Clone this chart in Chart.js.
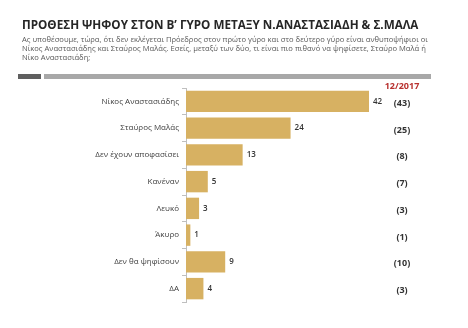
<!DOCTYPE html>
<html>
<head>
<meta charset="utf-8">
<script src="https://cdn.jsdelivr.net/npm/chart.js@4.4.1/dist/chart.umd.min.js"></script>
<style>
  html, body { margin: 0; padding: 0; background: #fff; }
  #myChart { display: block; }
</style>
</head>
<body>
<canvas id="myChart" width="468" height="328"></canvas>
<script>
// data
var categories = ['Νίκος Αναστασιάδης', 'Σταύρος Μαλάς', 'Δεν έχουν αποφασίσει', 'Κανέναν', 'Λευκό', 'Άκυρο', 'Δεν θα ψηφίσουν', 'ΔΑ']
var values = [42, 24, 13, 5, 3, 1, 9, 4]
var prevValues = [43, 25, 8, 7, 3, 1, 10, 3]
var periodLabel = '12/2017'

var titleText = 'ΠΡΟΘΕΣΗ ΨΗΦΟΥ ΣΤΟΝ Β’ ΓΥΡΟ ΜΕΤΑΞΥ Ν.ΑΝΑΣΤΑΣΙΑΔΗ & Σ.ΜΑΛΑ'
var subtitleLines = [
  'Ας υποθέσουμε, τώρα, ότι δεν εκλέγεται Πρόεδρος στον πρώτο γύρο και στο δεύτερο γύρο είναι ανθυποψήφιοι οι',
  'Νίκος Αναστασιάδης και Σταύρος Μαλάς. Εσείς, μεταξύ των δύο, τι είναι πιο πιθανό να ψηφίσετε, Σταύρο Μαλά ή',
  'Νίκο Αναστασιάδη;'
]

var FONT = '"Open Sans", "Noto Sans", sans-serif'
var barColor = '#D7B162'

// header: title, question text and the grey strip
const headerPlugin = {
  id: 'header',
  beforeDraw(chart) {
    const c = chart.ctx
    c.save()
    c.fillStyle = '#fff'
    c.fillRect(0, 0, chart.width, chart.height)
    c.restore()
  },
  afterDraw(chart) {
    const c = chart.ctx
    c.save()
    c.textAlign = 'left'
    c.textBaseline = 'alphabetic'
    c.fillStyle = '#262626'
    c.font = 'bold 11.7px ' + FONT
    c.fillText(titleText, 22, 29)

    c.fillStyle = '#595959'
    c.font = '7.6px ' + FONT
    subtitleLines.forEach((l, i) => c.fillText(l, 22, 42 + i * 9))

    c.fillStyle = '#5f5f5f'
    c.fillRect(18, 74, 23, 5)
    c.fillStyle = '#a8a8a8'
    c.fillRect(44, 74, 387, 5)
    c.restore()
  }
}

// value labels next to the bars + previous wave column
const labelsPlugin = {
  id: 'barLabels',
  afterDatasetsDraw(chart) {
    const c = chart.ctx
    const meta = chart.getDatasetMeta(0)
    const colX = 402
    c.save()
    c.textBaseline = 'middle'
    meta.data.forEach((bar, i) => {
      c.fillStyle = '#333'
      c.textAlign = 'left'
      c.font = '600 8px ' + FONT
      c.fillText(values[i], bar.x + 4, bar.y)
      c.textAlign = 'center'
      c.font = 'bold 9px ' + FONT
      c.fillText('(' + prevValues[i] + ')', colX, bar.y + 2)
    })
    c.fillStyle = '#B8312F'
    c.font = 'bold 9px ' + FONT
    c.textAlign = 'center'
    c.fillText(periodLabel, colX, 86)
    c.restore()
  }
}

const ctx = document.getElementById('myChart')

var chart = new Chart(ctx, {
  type: 'bar',
  data: {
    labels: categories,
    datasets: [{
      label: '12/2017',
      data: values,
      backgroundColor: barColor,
      borderWidth: 0,
      barPercentage: 0.8,
      categoryPercentage: 1.0
    }]
  },
  options: {
    indexAxis: 'y',
    responsive: false,
    devicePixelRatio: 1,
    animation: false,
    layout: { padding: { top: 88, bottom: 26, left: 18, right: 38 } },
    plugins: {
      legend: { display: false },
      tooltip: { enabled: false }
    },
    scales: {
      x: { display: false, min: 0, max: 56 },
      y: {
        afterFit(scale) { scale.width = 168 },
        border: { color: '#BFBFBF', width: 1 },
        grid: { drawOnChartArea: false, offset: true, tickLength: 4, color: '#BFBFBF' },
        ticks: { color: '#404040', padding: 3, font: { family: FONT, size: 8 } }
      }
    }
  },
  plugins: [headerPlugin, labelsPlugin]
})
</script>
</body>
</html>
